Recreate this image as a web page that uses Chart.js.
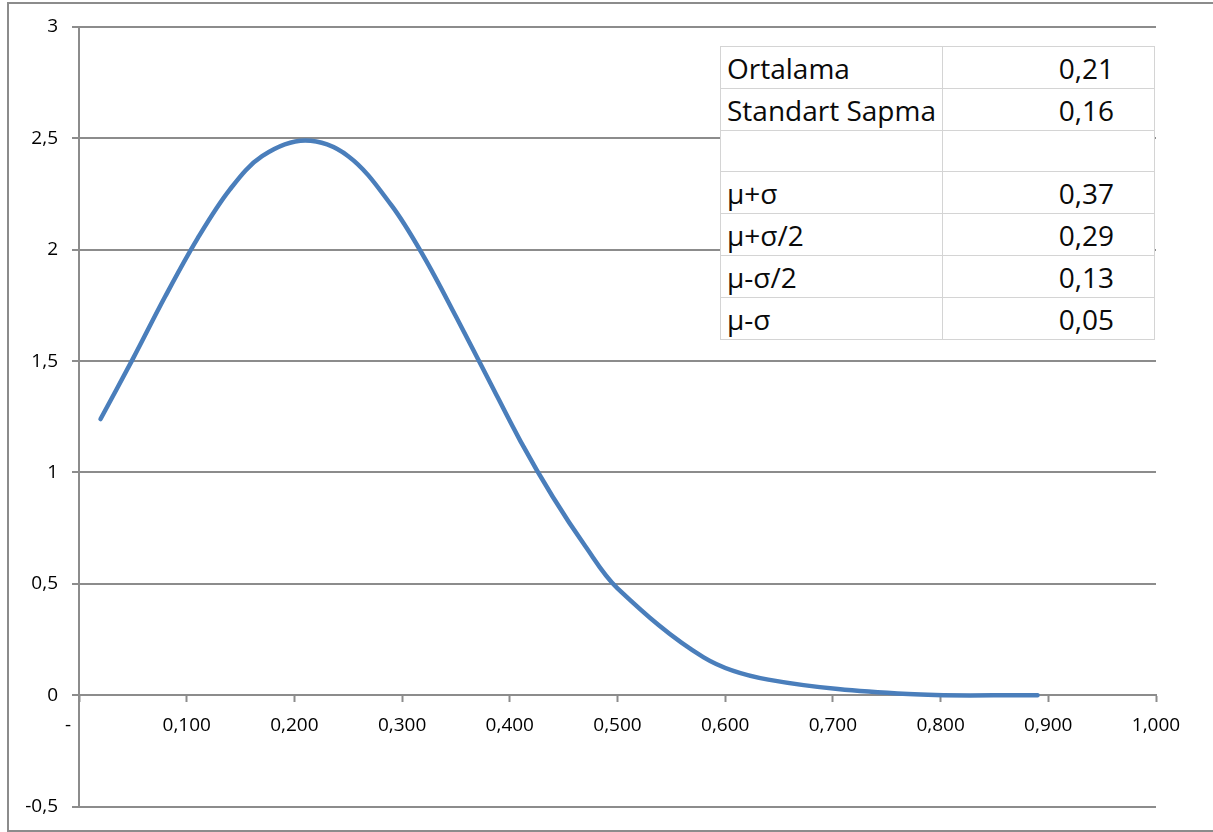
<!DOCTYPE html>
<html>
<head>
<meta charset="utf-8">
<script src="https://cdn.jsdelivr.net/npm/chart.js@4/dist/chart.umd.min.js"></script>
<style>
  html, body { margin: 0; padding: 0; background: #fff; }
  #wrap { position: relative; width: 1213px; height: 832px; overflow: hidden; }
  #c { position: absolute; left: 0; top: 0; }
  #frame { position: absolute; left: 7px; top: 2px; width: 1220px; height: 826px;
           border: 2px solid #8c8c8c; border-right: none; pointer-events: none; }
  #stats { position: absolute; left: 720px; top: 46px; border-collapse: collapse;
           background: #fff; font-family: "Open Sans", sans-serif; font-size: 28px; color: #0a0a0a; }
  #stats td { border: 1px solid #d4d4d4; height: 41px; padding: 1px 0 0 0; vertical-align: middle; line-height: 40px; white-space: nowrap; box-sizing: border-box; }
  #stats td.l { width: 222px; padding-left: 6px; text-align: left; }
  #stats td.v { width: 212px; padding-right: 40px; text-align: right; }
</style>
</head>
<body>
<div id="wrap">
  <canvas id="c" width="1213" height="832"></canvas>
  <table id="stats"></table>
  <div id="frame"></div>
</div>
<script>
// ---- data ----
const xValues = [0.02, 0.05, 0.08, 0.11, 0.14, 0.17, 0.21, 0.25, 0.29, 0.32, 0.35, 0.38, 0.41, 0.44, 0.47, 0.50, 0.58, 0.64, 0.77, 0.89];
const yValues = [1.24, 1.51, 1.79, 2.05, 2.27, 2.42, 2.49, 2.42, 2.20, 1.97, 1.70, 1.42, 1.14, 0.89, 0.67, 0.48, 0.17, 0.07, 0.005, 0.0];
const xTickLabels = ['-', '0,100', '0,200', '0,300', '0,400', '0,500', '0,600', '0,700', '0,800', '0,900', '1,000'];
const yTickLabels = ['-0,5', '0', '0,5', '1', '1,5', '2', '2,5', '3'];
const tableLabels = ['Ortalama', 'Standart Sapma', '', 'μ+σ', 'μ+σ/2', 'μ-σ/2', 'μ-σ'];
const tableValues = ['0,21', '0,16', '', '0,37', '0,29', '0,13', '0,05'];

// ---- table overlay ----
const tbl = document.getElementById('stats');
tableLabels.forEach((lab, i) => {
  const tr = document.createElement('tr');
  const a = document.createElement('td'); a.className = 'l'; a.textContent = lab;
  const b = document.createElement('td'); b.className = 'v'; b.textContent = tableValues[i];
  tr.appendChild(a); tr.appendChild(b); tbl.appendChild(tr);
});

// ---- chart ----
const points = xValues.map((x, i) => ({ x: x, y: yValues[i] }));
const gridColor = '#8c8c8c';
const labelFont = { family: '"Open Sans", sans-serif', size: 19 };

new Chart(document.getElementById('c'), {
  type: 'scatter',
  data: {
    datasets: [{
      data: points,
      showLine: true,
      borderColor: '#4a7ebb',
      borderWidth: 4.5,
      borderCapStyle: 'round',
      borderJoinStyle: 'round',
      pointRadius: 0,
      tension: 0.35,
      fill: false
    }]
  },
  options: {
    responsive: false,
    animation: false,
    layout: { padding: { left: 0, top: 27, right: 57, bottom: 25 } },
    plugins: { legend: { display: false }, tooltip: { enabled: false } },
    scales: {
      x: {
        type: 'linear',
        min: 0, max: 1,
        position: { y: 0 },
        grid: { drawOnChartArea: false, drawTicks: true, tickLength: 6, tickColor: gridColor, tickWidth: 2 },
        border: { display: true, color: gridColor, width: 2 },
        ticks: {
          stepSize: 0.1,
          padding: 13,
          color: '#000',
          font: labelFont,
          maxRotation: 0,
          autoSkip: false,
          callback: (v, i) => i === 0 ? xTickLabels[i] + '\u2007\u2007' : xTickLabels[i]
        }
      },
      y: {
        type: 'linear',
        min: -0.5, max: 3,
        afterFit: (s) => { s.width = 79; },
        grid: { color: gridColor, lineWidth: 2, drawTicks: true, tickLength: 7 },
        border: { display: true, color: gridColor, width: 2 },
        ticks: {
          stepSize: 0.5,
          padding: 14,
          color: '#000',
          font: labelFont,
          callback: (v, i) => yTickLabels[i]
        }
      }
    }
  }
});
</script>
</body>
</html>
